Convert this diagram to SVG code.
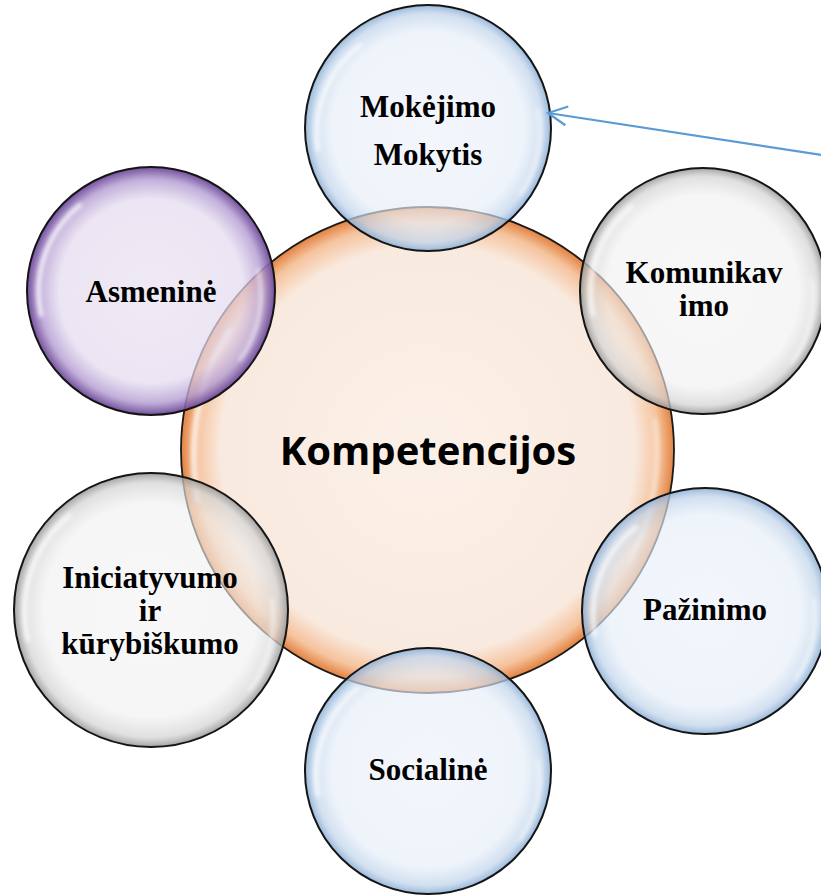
<svg xmlns="http://www.w3.org/2000/svg" width="821" height="895" viewBox="0 0 821 895">
<style>
.bub{stroke:#151515;stroke-width:2}
.lbl{font-family:"Liberation Serif","Times New Roman",serif;font-weight:bold;font-size:31px;fill:#000;text-anchor:middle}
.main{font-family:"Open Sans","Noto Sans",sans-serif;font-weight:bold;font-size:40px;fill:#000;text-anchor:middle}
.gloss{fill:none;stroke:#fff;stroke-linecap:round;filter:url(#blur)}
.conn{fill:none;stroke:#5b9bd5;stroke-width:2.2}
</style>
<defs>
<filter id="blur" x="-20%" y="-20%" width="140%" height="140%"><feGaussianBlur stdDeviation="2"/></filter>
<radialGradient id="gOrange" cx="50%" cy="50%" r="50%">
<stop offset="0" stop-color="#fbf0e8"/>
<stop offset="0.84" stop-color="#f9eadf"/>
<stop offset="0.94" stop-color="#f5c39d"/>
<stop offset="1" stop-color="#e3813f"/>
</radialGradient>
<radialGradient id="gBlue" cx="50%" cy="50%" r="50%">
<stop offset="0" stop-color="#edf2fa" stop-opacity="0.65"/>
<stop offset="0.78" stop-color="#e6eef8" stop-opacity="0.66"/>
<stop offset="0.93" stop-color="#bfd3ea" stop-opacity="0.72"/>
<stop offset="1" stop-color="#8aaed6" stop-opacity="0.88"/>
</radialGradient>
<radialGradient id="gGray" cx="50%" cy="50%" r="50%">
<stop offset="0" stop-color="#f3f3f3" stop-opacity="0.6"/>
<stop offset="0.78" stop-color="#f0f0f0" stop-opacity="0.62"/>
<stop offset="0.93" stop-color="#d3d3d3" stop-opacity="0.72"/>
<stop offset="1" stop-color="#969696" stop-opacity="0.88"/>
</radialGradient>
<radialGradient id="gPurple" cx="50%" cy="50%" r="50%">
<stop offset="0" stop-color="#e8e1f1" stop-opacity="0.7"/>
<stop offset="0.74" stop-color="#e4dbef" stop-opacity="0.72"/>
<stop offset="0.9" stop-color="#b49dd2" stop-opacity="0.82"/>
<stop offset="1" stop-color="#6a4596" stop-opacity="0.95"/>
</radialGradient>
<marker id="openArrow" viewBox="-22 -12 24 24" refX="0" refY="0" markerWidth="24" markerHeight="24" markerUnits="userSpaceOnUse" orient="auto" overflow="visible">
<path d="M-19,-9.5 L0,0 L-19,9.5" fill="none" stroke="#5b9bd5" stroke-width="2.2"/>
</marker>
</defs>

<g id="node-kompetencijos">
<ellipse cx="427.5" cy="450" rx="246.5" ry="243" fill="url(#gOrange)" stroke="#1a1a1a" stroke-width="1.8"/>
<path class="gloss" d="M198,500 A232,232 0 0 1 230,330" stroke-width="5" opacity="0.8"/>
<path class="gloss" d="M655,420 A232,232 0 0 1 630,560" stroke-width="4" opacity="0.5"/>
<text class="main" x="428" y="465">Kompetencijos</text>
</g>

<g id="node-mokejimo">
<circle class="bub" cx="428" cy="128" r="123" fill="url(#gBlue)"/>
<path class="gloss" d="M318,150 A111,111 0 0 1 360,45" stroke-width="4" opacity="0.85"/>
<path class="gloss" d="M538,110 A111,111 0 0 1 520,195" stroke-width="3" opacity="0.7"/>
<text class="lbl" x="428" y="117">Mokėjimo</text>
<text class="lbl" x="428" y="165">Mokytis</text>
</g>

<g id="node-asmenine">
<circle class="bub" cx="151" cy="291" r="124" fill="url(#gPurple)"/>
<path class="gloss" d="M41,315 A111,111 0 0 1 80,205" stroke-width="4" opacity="0.9"/>
<path class="gloss" d="M258,270 A111,111 0 0 1 240,360" stroke-width="3" opacity="0.7"/>
<text class="lbl" x="151" y="302">Asmeninė</text>
</g>

<g id="node-komunikavimo">
<circle class="bub" cx="703" cy="291" r="123" fill="url(#gGray)"/>
<path class="gloss" d="M593,315 A111,111 0 0 1 632,206" stroke-width="4" opacity="0.85"/>
<path class="gloss" d="M812,280 A111,111 0 0 1 792,362" stroke-width="3" opacity="0.7"/>
<text class="lbl" x="704" y="283">Komunikav</text>
<text class="lbl" x="704" y="316">imo</text>
</g>

<g id="node-iniciatyvumo">
<circle class="bub" cx="151" cy="610" r="137" fill="url(#gGray)"/>
<path class="gloss" d="M28,640 A124,124 0 0 1 70,515" stroke-width="4" opacity="0.85"/>
<path class="gloss" d="M272,600 A124,124 0 0 1 250,690" stroke-width="3" opacity="0.7"/>
<text class="lbl" x="150" y="588">Iniciatyvumo</text>
<text class="lbl" x="150" y="621">ir</text>
<text class="lbl" x="150" y="654">kūrybiškumo</text>
</g>

<g id="node-pazinimo">
<circle class="bub" cx="705" cy="611" r="123" fill="url(#gBlue)"/>
<path class="gloss" d="M595,635 A111,111 0 0 1 636,527" stroke-width="4" opacity="0.85"/>
<path class="gloss" d="M814,600 A111,111 0 0 1 795,680" stroke-width="3" opacity="0.7"/>
<text class="lbl" x="705" y="620">Pažinimo</text>
</g>

<g id="node-socialine">
<circle class="bub" cx="428" cy="771" r="123" fill="url(#gBlue)"/>
<path class="gloss" d="M318,795 A111,111 0 0 1 358,688" stroke-width="4" opacity="0.85"/>
<path class="gloss" d="M538,760 A111,111 0 0 1 520,840" stroke-width="3" opacity="0.7"/>
<text class="lbl" x="428" y="780">Socialinė</text>
</g>

<g id="connectors">
<path class="conn" d="M822,155 L548,113" marker-end="url(#openArrow)"/>
</g>
</svg>
